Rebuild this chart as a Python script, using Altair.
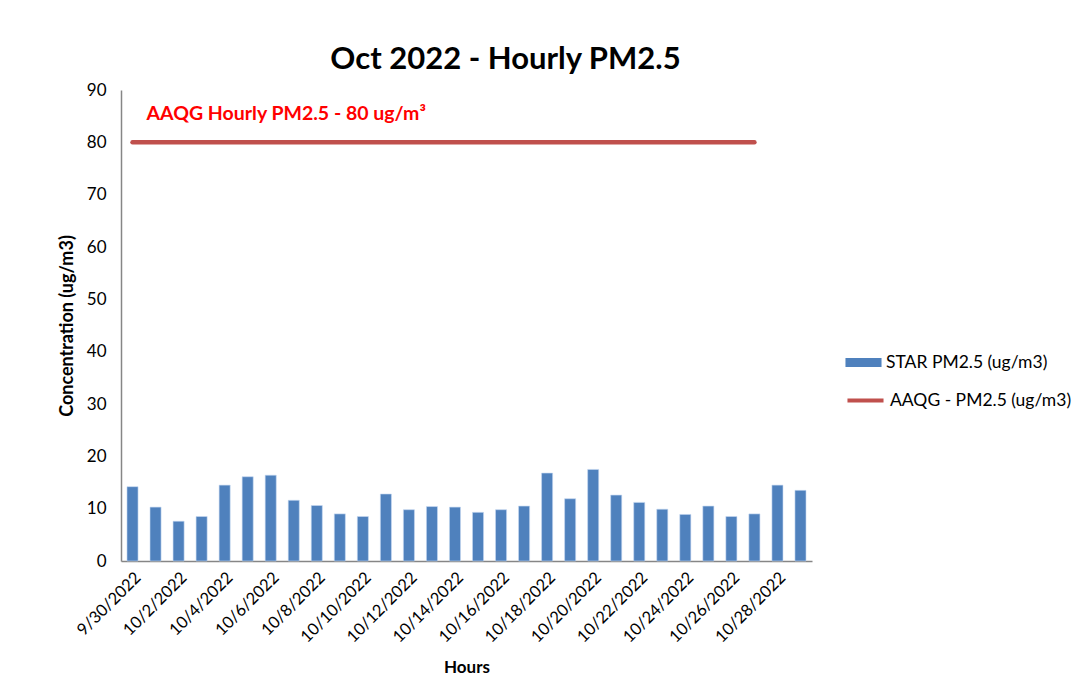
import altair as alt
import pandas as pd

dates = ["9/30/2022"] + [f"10/{d}/2022" for d in range(1, 30)]
star_pm25 = [14.2, 10.3, 7.6, 8.5, 14.5, 16.1, 16.4, 11.6, 10.6, 9.0,
             8.5, 12.8, 9.8, 10.4, 10.3, 9.3, 9.8, 10.5, 16.8, 11.9,
             17.5, 12.6, 11.2, 9.9, 8.9, 10.5, 8.5, 9.0, 14.5, 13.5]
aaqg_dates = dates[:28]
aaqg_value = [80] * len(aaqg_dates)
label_dates = dates[::2]

FONT = "Lato"
BLUE = "#4F81BD"
RED = "#C0504D"

bars_df = pd.DataFrame({"date": dates, "value": star_pm25,
                        "series": "STAR PM2.5 (ug/m3)"})
line_df = pd.DataFrame({"date": aaqg_dates, "value": aaqg_value,
                        "series": "AAQG - PM2.5 (ug/m3)"})
note_df = pd.DataFrame({"date": [dates[0]], "value": [85.5],
                        "text": ["AAQG Hourly PM2.5 - 80 ug/m³"]})

xscale = alt.Scale(domain=dates, paddingInner=0.52, paddingOuter=0.26)
yscale = alt.Scale(domain=[0, 90], nice=False)

x_enc = alt.X("date:N", scale=xscale, sort=None,
              axis=alt.Axis(title="Hours", values=label_dates, labelAngle=-45,
                            labelFontSize=16.5, labelColor="#000", ticks=False,
                            labelPadding=8, domainColor="#868686", domainWidth=1.5,
                            titleFontSize=17, titleFontWeight="bold", titleColor="#000",
                            titlePadding=14, labelFont=FONT, titleFont=FONT))
y_enc = alt.Y("value:Q", scale=yscale,
              axis=alt.Axis(title="Concentration (ug/m3)", values=list(range(0, 91, 10)),
                            grid=False, ticks=False, labelFontSize=17, labelColor="#000",
                            labelPadding=15, domainColor="#868686", domainWidth=1.5,
                            titleFontSize=18, titleFontWeight="bold", titleColor="#000",
                            titlePadding=10, labelFont=FONT, titleFont=FONT))

custom_rect = "M-1,-0.25H1V0.25H-1Z"

bars = alt.Chart(bars_df).mark_bar(stroke="#C6D9F1", strokeWidth=0.6).encode(
    x=x_enc, y=y_enc,
    fill=alt.Fill("series:N", scale=alt.Scale(domain=["STAR PM2.5 (ug/m3)"], range=[BLUE]),
                  legend=alt.Legend(title=None, orient="none", legendX=724, legendY=254,
                                    symbolType=custom_rect, symbolSize=1300,
                                    labelFontSize=17.5, labelFont=FONT, labelColor="#000",
                                    labelLimit=400, symbolStrokeWidth=0, labelOffset=4)),
)

line = alt.Chart(line_df).mark_line(strokeWidth=4.5, strokeCap="round").encode(
    x=alt.X("date:N", scale=xscale, sort=None),
    y=alt.Y("value:Q", scale=yscale),
    stroke=alt.Stroke("series:N", scale=alt.Scale(domain=["AAQG - PM2.5 (ug/m3)"], range=[RED]),
                      legend=alt.Legend(title=None, orient="none", legendX=724, legendY=290,
                                        symbolType="stroke", symbolSize=1300,
                                        symbolStrokeWidth=4, labelFontSize=17.5,
                                        labelLimit=400, labelFont=FONT, labelColor="#000",
                                        labelOffset=4)),
)

note = alt.Chart(note_df).mark_text(align="left", baseline="middle", dx=14,
                                    fontSize=19.5, fontWeight="bold", color="#FF0000",
                                    font=FONT).encode(
    x=alt.X("date:N", scale=xscale, sort=None),
    y=alt.Y("value:Q", scale=yscale),
    text="text:N",
)

chart = alt.layer(bars, line, note).properties(
    width=691, height=471,
    title=alt.TitleParams("Oct 2022 - Hourly PM2.5", fontSize=31, fontWeight="bold",
                          font=FONT, color="#000", anchor="middle", dx=39, offset=5),
    padding={"left": 50, "top": 36, "right": 0, "bottom": 5},
    background="white",
).configure_view(stroke=None)

chart.save("out.html", embed_options={"renderer": "svg", "actions": False})
